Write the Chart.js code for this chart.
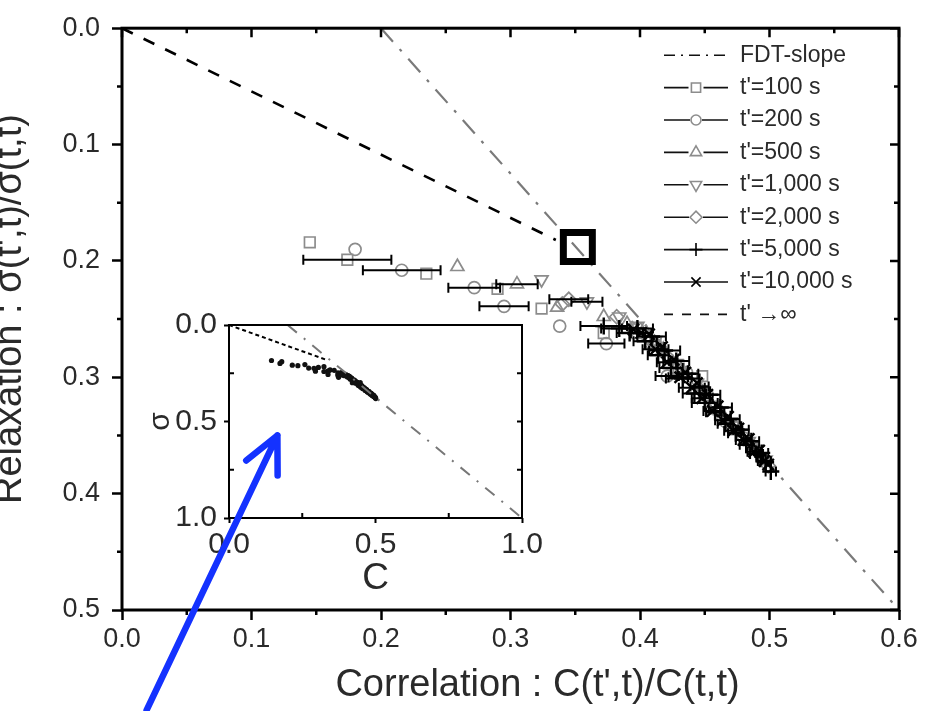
<!DOCTYPE html>
<html>
<head>
<meta charset="utf-8">
<script src="https://cdn.jsdelivr.net/npm/chart.js@4.4.1/dist/chart.umd.min.js"></script>
<style>
  body { margin: 0; background: #fff; }
  #wrap { position: relative; width: 929px; height: 711px; overflow: hidden; }
  canvas { position: absolute; }
  #main { left: 0; top: 0; z-index: 2; }
  #inset { left: 150px; top: 300px; z-index: 1; }
</style>
</head>
<body>
<div id="wrap">
  <canvas id="inset" width="420" height="300"></canvas>
  <canvas id="main" width="929" height="711"></canvas>
</div>
<script>
// correlation C(t',t)/C(t,t), relaxation sigma(t',t)/sigma(t,t), error half-width in C
const c100 = [0.145, 0.174, 0.235, 0.290, 0.324, 0.372, 0.396, 0.412, 0.430, 0.448, 0.458, 0.472, 0.486];
const s100 = [0.184, 0.199, 0.211, 0.224, 0.241, 0.262, 0.262, 0.270, 0.293, 0.299, 0.327, 0.343, 0.360];
const e100 = [0, 0.034, 0, 0, 0, 0, 0, 0, 0, 0, 0, 0, 0];

const c200 = [0.180, 0.216, 0.272, 0.295, 0.338, 0.374, 0.398, 0.408, 0.421, 0.436, 0.452, 0.466, 0.480, 0.494];
const s200 = [0.190, 0.208, 0.223, 0.239, 0.256, 0.271, 0.258, 0.270, 0.299, 0.296, 0.315, 0.338, 0.352, 0.370];
const e200 = [0, 0.030, 0.020, 0.019, 0, 0.014, 0, 0, 0.009, 0, 0, 0, 0, 0];

const c500 = [0.259, 0.305, 0.336, 0.372, 0.390, 0.405, 0.418, 0.434, 0.450, 0.462, 0.476, 0.490];
const s500 = [0.205, 0.220, 0.240, 0.248, 0.254, 0.262, 0.276, 0.296, 0.314, 0.329, 0.346, 0.362];
const e500 = [0, 0.016, 0, 0, 0, 0, 0, 0, 0, 0, 0, 0];

const c1000 = [0.324, 0.359, 0.384, 0.398, 0.412, 0.428, 0.444, 0.458, 0.470, 0.484, 0.497];
const s1000 = [0.216, 0.235, 0.248, 0.256, 0.268, 0.288, 0.305, 0.324, 0.338, 0.355, 0.371];
const e1000 = [0, 0.012, 0, 0, 0, 0, 0, 0, 0, 0, 0];

const c2000 = [0.340, 0.345, 0.382, 0.394, 0.406, 0.420, 0.433, 0.447, 0.460, 0.473, 0.487, 0.499];
const s2000 = [0.237, 0.233, 0.248, 0.258, 0.266, 0.281, 0.296, 0.311, 0.328, 0.342, 0.359, 0.376];
const e2000 = [0, 0.015, 0, 0, 0, 0, 0, 0, 0, 0, 0, 0];

const c5000 = [0.372, 0.384, 0.392, 0.398, 0.404, 0.409, 0.414, 0.419, 0.424, 0.428, 0.433, 0.437, 0.442, 0.446,
               0.450, 0.454, 0.458, 0.462, 0.466, 0.470, 0.474, 0.478, 0.482, 0.486, 0.490, 0.494, 0.497, 0.501];
const s5000 = [0.256, 0.258, 0.262, 0.258, 0.269, 0.265, 0.281, 0.277, 0.292, 0.286, 0.301, 0.297, 0.314, 0.308,
               0.322, 0.315, 0.330, 0.326, 0.340, 0.336, 0.348, 0.345, 0.358, 0.355, 0.366, 0.365, 0.373, 0.381];
const e5000 = [0.018, 0.014, 0.010, 0.012, 0.009, 0.011, 0.008, 0.012, 0.009, 0.010, 0.013, 0.008, 0.009, 0.007,
               0.010, 0.008, 0.007, 0.009, 0.006, 0.007, 0.006, 0.006, 0.005, 0.006, 0.005, 0.005, 0.004, 0.004];

const c10000 = [0.395, 0.401, 0.407, 0.412, 0.417, 0.421, 0.426, 0.431, 0.435, 0.440, 0.444, 0.448, 0.452,
                0.456, 0.460, 0.464, 0.468, 0.472, 0.476, 0.480, 0.484, 0.488, 0.492, 0.496, 0.499];
const s10000 = [0.259, 0.262, 0.263, 0.276, 0.274, 0.287, 0.285, 0.300, 0.296, 0.309, 0.305, 0.318, 0.315,
                0.329, 0.325, 0.337, 0.334, 0.346, 0.344, 0.354, 0.353, 0.364, 0.363, 0.372, 0.375];
const e10000 = [0, 0.008, 0, 0.010, 0, 0.008, 0, 0.009, 0, 0.010, 0, 0.008, 0,
                0.007, 0, 0.006, 0, 0.007, 0, 0.006, 0, 0.005, 0, 0.005, 0];

// FDT line and the t' -> infinity limit
const fdtC = [0.2, 0.6, 1.0];
const fdtS = [0.0, 0.5, 1.0];
const infC = [0.0, 0.335];
const infS = [0.0, 0.182];

// crossing point of the two lines
const crossC = [0.352];
const crossS = [0.188];

// arrow pointing at the inset (tail, head) in main axis units
const arrowC = [0.019, 0.12];
const arrowS = [0.586, 0.35];

const xTickLabels = ['0.0', '0.1', '0.2', '0.3', '0.4', '0.5', '0.6'];
const yTickLabels = ['0.0', '0.1', '0.2', '0.3', '0.4', '0.5'];
const insetTickLabels = ['0.0', '0.5', '1.0'];

const GRAY = '#8c8c8c';
const TEXT = '#2a2a2a';
const FONT = "'Liberation Sans', Arial, sans-serif";
Chart.defaults.font.family = FONT;
Chart.defaults.color = TEXT;

function pts(cs, ss) {
  return cs.map((c, i) => ({ x: c, y: ss[i] }));
}

const series = [
  { label: "t'=100 s", c: c100, s: s100, e: e100, style: 'rect', r: 7.5, color: GRAY },
  { label: "t'=200 s", c: c200, s: s200, e: e200, style: 'circle', r: 6, color: GRAY },
  { label: "t'=500 s", c: c500, s: s500, e: e500, style: 'triangle', r: 7.5, color: GRAY },
  { label: "t'=1,000 s", c: c1000, s: s1000, e: e1000, style: 'triangle', rot: 180, r: 7.5, color: GRAY },
  { label: "t'=2,000 s", c: c2000, s: s2000, e: e2000, style: 'rectRot', r: 7, color: GRAY },
  { label: "t'=5,000 s", c: c5000, s: s5000, e: e5000, style: 'cross', r: 8.5, color: '#000' },
  { label: "t'=10,000 s", c: c10000, s: s10000, e: e10000, style: 'crossRot', r: 8, color: '#000' }
];

function pickLabel(list, v) {
  const hit = list.find(t => Math.abs(parseFloat(t) - v) < 1e-6);
  return hit || '';
}

// frame box plus the minor / inside ticks that Chart.js does not draw itself
// lengths: positive points into the plot, negative points outward
const frame = {
  id: 'frame',
  afterDraw(chart, args, o) {
    const { ctx, chartArea: a } = chart;
    const xs = chart.scales.x, ys = chart.scales.y;
    ctx.save();
    ctx.strokeStyle = '#000';
    ctx.lineWidth = o.width;
    ctx.strokeRect(a.left, a.top, a.right - a.left, a.bottom - a.top);
    ctx.lineWidth = o.tickWidth;
    ctx.beginPath();
    xs.ticks.forEach(t => {
      const major = pickLabel(o.xLabels, t.value) !== '';
      const px = xs.getPixelForValue(t.value);
      const b = major ? o.bottom[0] : o.bottom[1];
      const tp = major ? o.top[0] : o.top[1];
      if (b) { ctx.moveTo(px, a.bottom); ctx.lineTo(px, a.bottom - b); }
      if (tp) { ctx.moveTo(px, a.top); ctx.lineTo(px, a.top + tp); }
    });
    ys.ticks.forEach(t => {
      const major = pickLabel(o.yLabels, t.value) !== '';
      const py = ys.getPixelForValue(t.value);
      const l = major ? o.left[0] : o.left[1];
      const r = major ? o.right[0] : o.right[1];
      if (l) { ctx.moveTo(a.left, py); ctx.lineTo(a.left + l, py); }
      if (r) { ctx.moveTo(a.right, py); ctx.lineTo(a.right - r, py); }
    });
    ctx.stroke();
    ctx.restore();
  }
};

// axis titles of the main plot, set a little off the centre of the axes
const axisTitles = {
  id: 'axisTitles',
  afterDraw(chart) {
    const { ctx, chartArea: a } = chart;
    ctx.save();
    ctx.fillStyle = TEXT;
    ctx.font = '38px ' + FONT;
    ctx.textAlign = 'center';
    ctx.textBaseline = 'middle';
    ctx.fillText('Correlation : C(t\',t)/C(t,t)', (a.left + a.right) / 2 + 27, a.bottom + 76);
    ctx.translate(11, (a.top + a.bottom) / 2 - 10);
    ctx.rotate(-Math.PI / 2);
    ctx.fillText('Relaxation : \u03c3(t\',t)/\u03c3(t,t)', 0, 0);
    ctx.restore();
  }
};

// horizontal error bars with caps
const errorBars = {
  id: 'errorBars',
  afterDatasetsDraw(chart) {
    const { ctx } = chart;
    const xs = chart.scales.x, ys = chart.scales.y;
    ctx.save();
    ctx.strokeStyle = '#000';
    ctx.lineWidth = 2;
    chart.data.datasets.forEach(ds => {
      if (!ds.errors) return;
      ds.data.forEach((p, i) => {
        const e = ds.errors[i];
        if (!e) return;
        const xa = xs.getPixelForValue(p.x - e);
        const xb = xs.getPixelForValue(p.x + e);
        const y = ys.getPixelForValue(p.y);
        ctx.beginPath();
        ctx.moveTo(xa, y); ctx.lineTo(xb, y);
        ctx.moveTo(xa, y - 5); ctx.lineTo(xa, y + 5);
        ctx.moveTo(xb, y - 5); ctx.lineTo(xb, y + 5);
        ctx.stroke();
      });
    });
    ctx.restore();
  }
};

// legend in the upper right corner: line sample with the marker in the middle
const legendBox = {
  id: 'legendBox',
  afterDraw(chart) {
    const { ctx, chartArea } = chart;
    const x0 = chartArea.right - 235, x1 = x0 + 64, xm = (x0 + x1) / 2;
    ctx.save();
    ctx.font = '23px ' + FONT;
    ctx.textBaseline = 'middle';
    chart.data.datasets.forEach((ds, i) => {
      if (!ds.label) return;
      const y = chartArea.top + 27 + i * 32.4;
      ctx.strokeStyle = '#111';
      ctx.lineWidth = 1.6;
      ctx.setLineDash(ds.legendDash || []);
      ctx.beginPath();
      if (ds.showLine) {
        ctx.moveTo(x0, y); ctx.lineTo(x1, y);
      } else {
        const open = ds.pointStyle !== 'cross' && ds.pointStyle !== 'crossRot';
        const gap = open ? ds.pointRadius : 0;
        ctx.moveTo(x0, y); ctx.lineTo(xm - gap, y);
        ctx.moveTo(xm + gap, y); ctx.lineTo(x1, y);
      }
      ctx.stroke();
      ctx.setLineDash([]);
      if (!ds.showLine) {
        ctx.strokeStyle = ds.borderColor;
        ctx.fillStyle = '#fff';
        ctx.lineWidth = 1.6;
        Chart.helpers.drawPoint(ctx, {
          pointStyle: ds.pointStyle, rotation: ds.pointRotation || 0,
          radius: Math.min(ds.pointRadius - 1, 6.5), borderWidth: 1.6
        }, xm, y);
      }
      ctx.fillStyle = TEXT;
      ctx.fillText(ds.label, x1 + 12, y);
    });
    ctx.restore();
  }
};

// blue arrow drawn over both plots
const arrow = {
  id: 'arrow',
  afterDraw(chart) {
    const { ctx } = chart;
    const xs = chart.scales.x, ys = chart.scales.y;
    const x0 = xs.getPixelForValue(arrowC[0]), y0 = ys.getPixelForValue(arrowS[0]);
    const x1 = xs.getPixelForValue(arrowC[1]), y1 = ys.getPixelForValue(arrowS[1]);
    const ang = Math.atan2(y0 - y1, x0 - x1);
    ctx.save();
    ctx.strokeStyle = '#1432ff';
    ctx.lineWidth = 6.5;
    ctx.lineCap = 'round';
    ctx.lineJoin = 'round';
    ctx.beginPath();
    ctx.moveTo(x0, y0); ctx.lineTo(x1, y1);
    [-0.45, 0.45].forEach(d => {
      ctx.moveTo(x1, y1);
      ctx.lineTo(x1 + 40 * Math.cos(ang + d), y1 + 40 * Math.sin(ang + d));
    });
    ctx.stroke();
    ctx.restore();
  }
};

function seriesDatasets() {
  return series.map(s => ({
    label: s.label,
    data: pts(s.c, s.s),
    errors: s.e,
    showLine: false,
    pointStyle: s.style,
    pointRotation: s.rot || 0,
    pointRadius: s.r,
    pointHoverRadius: s.r,
    borderColor: s.color,
    backgroundColor: 'rgba(255,255,255,0)',
    borderWidth: s.color === '#000' ? 2.4 : 1.7,
    order: s.color === '#000' ? 0 : 1
  }));
}

const mainChart = new Chart(document.getElementById('main'), {
  type: 'scatter',
  data: {
    datasets: [
      {
        label: 'FDT-slope', data: pts(fdtC, fdtS), showLine: true,
        borderColor: '#7a7a7a', borderWidth: 2.2, borderDash: [18, 10, 3, 10],
        legendDash: [11, 6, 2, 6], pointRadius: 0, order: 2
      },
      ...seriesDatasets(),
      {
        label: "t' \u2192\u221e", data: pts(infC, infS), showLine: true,
        borderColor: '#000', borderWidth: 2.6, borderDash: [12, 12],
        legendDash: [9, 9], pointRadius: 0, order: 2
      },
      {
        data: pts(crossC, crossS), pointStyle: 'rect', pointRadius: 20.5,
        borderColor: '#000', borderWidth: 7, backgroundColor: 'rgba(0,0,0,0)', order: 0
      }
    ]
  },
  options: {
    responsive: false,
    animation: false,
    devicePixelRatio: 1,
    events: [],
    layout: { padding: { top: 20, right: 30, left: 0, bottom: 0 } },
    plugins: {
      legend: { display: false },
      tooltip: { enabled: false },
      frame: {
        width: 3, tickWidth: 2.5, xLabels: xTickLabels, yLabels: yTickLabels,
        bottom: [0, -5], left: [0, -5], top: [9, 5], right: [9, 5]
      }
    },
    scales: {
      x: {
        type: 'linear', min: 0, max: 0.6,
        border: { display: false },
        grid: {
          drawOnChartArea: false, tickLength: 10, tickWidth: 2.5,
          tickColor: c => pickLabel(xTickLabels, c.tick.value) ? '#000' : 'rgba(0,0,0,0)'
        },
        ticks: {
          stepSize: 0.05, autoSkip: false, maxRotation: 0, padding: 3,
          font: { size: 27 }, color: TEXT,
          callback: v => pickLabel(xTickLabels, v)
        },
        afterFit: s => { s.height = 101; }
      },
      y: {
        type: 'linear', min: 0, max: 0.5, reverse: true,
        border: { display: false },
        grid: {
          drawOnChartArea: false, tickLength: 10, tickWidth: 2.5,
          tickColor: c => pickLabel(yTickLabels, c.tick.value) ? '#000' : 'rgba(0,0,0,0)'
        },
        ticks: {
          stepSize: 0.05, autoSkip: false, padding: 12,
          font: { size: 27 }, color: TEXT,
          callback: v => pickLabel(yTickLabels, v)
        },
        afterFit: s => { s.width = 122; }
      }
    }
  },
  plugins: [errorBars, frame, legendBox, axisTitles, arrow]
});

// inset: the same data on the full 0..1 range
const insetChart = new Chart(document.getElementById('inset'), {
  type: 'scatter',
  data: {
    datasets: [
      {
        data: pts(fdtC, fdtS), showLine: true, borderColor: '#777', borderWidth: 2,
        borderDash: [12, 9, 2, 9], pointRadius: 0
      },
      {
        data: pts(infC, infS), showLine: true, borderColor: '#000', borderWidth: 2,
        borderDash: [4, 3], pointRadius: 0
      },
      ...series.map(s => ({
        data: pts(s.c, s.s), showLine: false, pointRadius: 2.6,
        pointStyle: 'circle', borderWidth: 0, backgroundColor: '#111'
      }))
    ]
  },
  options: {
    responsive: false,
    animation: false,
    devicePixelRatio: 1,
    events: [],
    layout: { padding: { top: 23, right: 48, left: 0, bottom: 0 } },
    plugins: {
      legend: { display: false },
      tooltip: { enabled: false },
      frame: {
        width: 2, tickWidth: 2, xLabels: insetTickLabels, yLabels: insetTickLabels,
        bottom: [0, 5], left: [0, 5], top: [0, 0], right: [5, 5]
      }
    },
    scales: {
      x: {
        type: 'linear', min: 0, max: 1,
        border: { display: false },
        grid: {
          drawOnChartArea: false, tickLength: 5, tickWidth: 2,
          tickColor: c => pickLabel(insetTickLabels, c.tick.value) ? '#000' : 'rgba(0,0,0,0)'
        },
        ticks: {
          stepSize: 0.25, autoSkip: false, maxRotation: 0, padding: 4,
          font: { size: 30 }, color: TEXT,
          callback: v => pickLabel(insetTickLabels, v)
        },
        title: {
          display: true, text: 'C', font: { size: 37, lineHeight: 1 },
          color: TEXT, padding: { bottom: 3 }
        },
        afterFit: s => { s.height = 82; }
      },
      y: {
        type: 'linear', min: 0, max: 1, reverse: true,
        border: { display: false },
        grid: {
          drawOnChartArea: false, tickLength: 5, tickWidth: 2,
          tickColor: c => pickLabel(insetTickLabels, c.tick.value) ? '#000' : 'rgba(0,0,0,0)'
        },
        ticks: {
          stepSize: 0.25, autoSkip: false, padding: 7,
          font: { size: 30 }, color: TEXT,
          callback: v => pickLabel(insetTickLabels, v)
        },
        title: {
          display: true, text: '\u03c3', font: { size: 30, lineHeight: 1 },
          color: TEXT, padding: { top: -4 }
        },
        afterFit: s => { s.width = 79; }
      }
    }
  },
  plugins: [frame]
});
</script>
</body>
</html>
